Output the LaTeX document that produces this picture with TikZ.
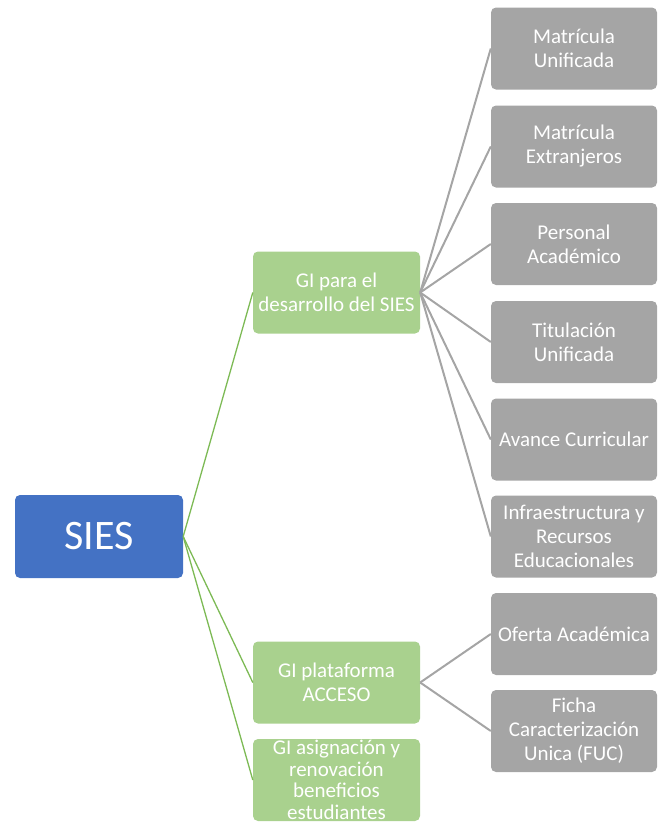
\documentclass[tikz,border=0pt]{standalone}
\usepackage{fontspec}
\setmainfont{Carlito}
\definecolor{sblue}{HTML}{4472C4}
\definecolor{sgreen}{HTML}{A9D18E}
\definecolor{sgreenline}{HTML}{7DBA55}
\definecolor{sgrey}{HTML}{A5A5A5}
\definecolor{sgreyline}{HTML}{A5A5A5}
\begin{document}
\begin{tikzpicture}[x=1pt,y=-1pt,
  boxbase/.style={rounded corners=5pt, inner sep=0pt, align=center, text=white, anchor=center},
  rootbox/.style={boxbase, fill=sblue, minimum width=168pt, minimum height=83pt, font=\fontsize{42}{48}\selectfont},
  gbox/.style={boxbase, fill=sgreen, minimum width=167pt, minimum height=82pt, font=\fontsize{21}{23.5}\selectfont},
  gboxtight/.style={gbox, font=\fontsize{21}{21.5}\selectfont},
  greybox/.style={boxbase, fill=sgrey, minimum width=166pt, minimum height=82pt, font=\fontsize{21}{24}\selectfont},
  gline/.style={draw=sgreenline, line width=1.3pt},
  greyline/.style={draw=sgreyline, line width=2pt}]
\useasboundingbox (0,0) rectangle (662,825);
\node[rootbox] (root) at (99,536.5) {SIES};
\node[gbox] (g1) at (336.5,292.5) {GI para el\\desarrollo del SIES};
\node[gbox] (g2) at (336.5,682.5) {GI plataforma\\ACCESO};
\node[gboxtight] (g3) at (336.5,780) {GI asignación y\\renovación\\beneficios\\estudiantes};
\node[greybox] (c1) at (574,48.5) {Matrícula\\Unificada};
\node[greybox] (c2) at (574,146.5) {Matrícula\\Extranjeros};
\node[greybox] (c3) at (574,244) {Personal\\Académico};
\node[greybox] (c4) at (574,342) {Titulación\\Unificada};
\node[greybox] (c5) at (574,439.5) {Avance Curricular};
\node[greybox] (c6) at (574,536.5) {Infraestructura y\\Recursos\\Educacionales};
\node[greybox] (c7) at (574,634) {Oferta Académica};
\node[greybox] (c8) at (574,731) {Ficha\\Caracterización\\Unica (FUC)};
\foreach \g in {g1,g2,g3} \draw[gline] (root.east) -- (\g.west);
\foreach \c in {c1,c2,c3,c4,c5,c6} \draw[greyline] (g1.east) -- (\c.west);
\foreach \c in {c7,c8} \draw[greyline] (g2.east) -- (\c.west);
\end{tikzpicture}
\end{document}
